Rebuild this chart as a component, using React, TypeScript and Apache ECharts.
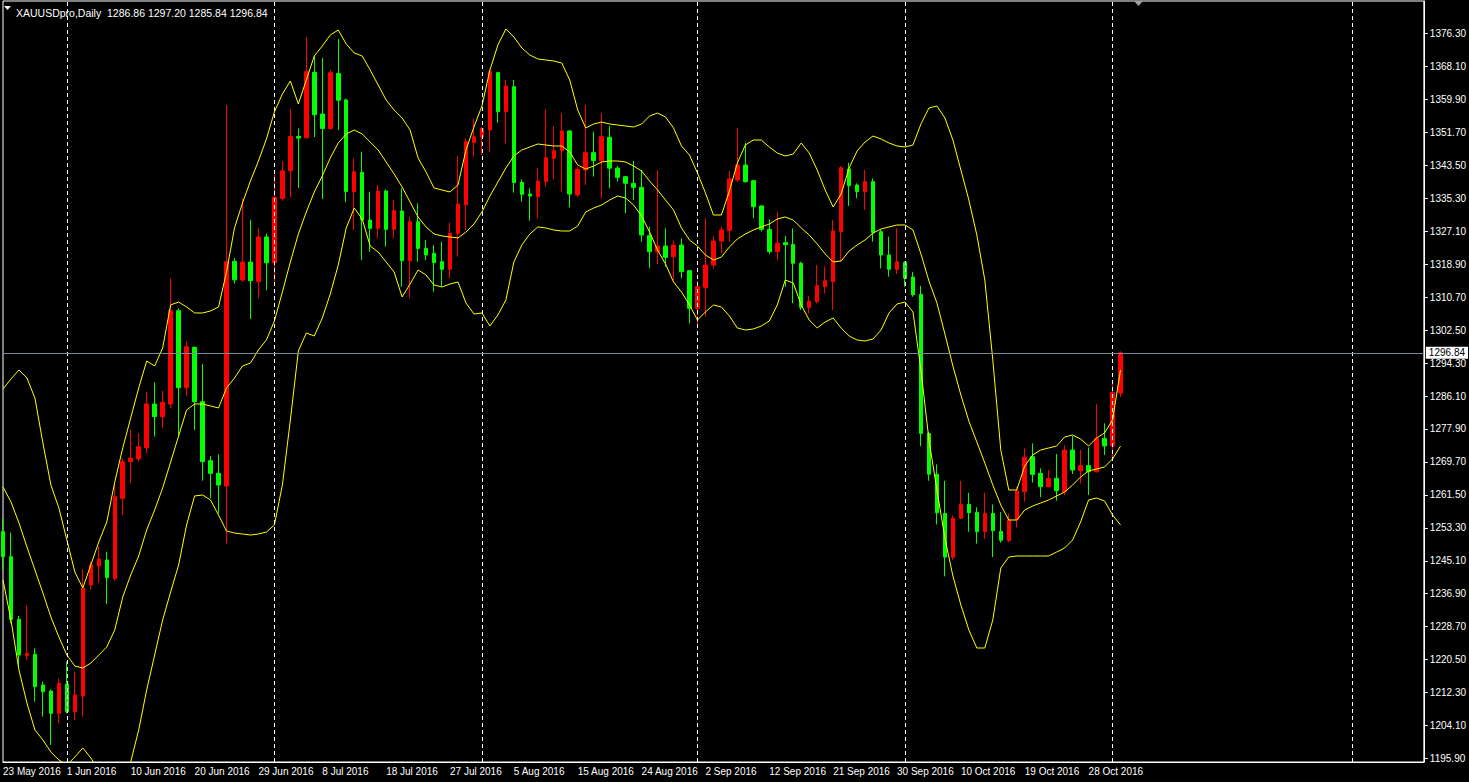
import React, { useEffect, useRef } from 'react';
import * as echarts from 'echarts';

const SYMBOL = 'XAUUSDpro,Daily';
const LAST_BAR = { open: 1286.86, high: 1297.2, low: 1285.84, close: 1296.84 };

const DATE_LABELS = [
  '23 May 2016', '1 Jun 2016', '10 Jun 2016', '20 Jun 2016', '29 Jun 2016', '8 Jul 2016',
  '18 Jul 2016', '27 Jul 2016', '5 Aug 2016', '15 Aug 2016', '24 Aug 2016', '2 Sep 2016',
  '12 Sep 2016', '21 Sep 2016', '30 Sep 2016', '10 Oct 2016', '19 Oct 2016', '28 Oct 2016',
];
const LABEL_STEP = 8;
const SLOT_COUNT = 179;
const MONTH_SEPARATORS = [8, 34, 60, 87, 113, 139, 169];

const PRICE_TICKS = [
  1195.9, 1204.1, 1212.3, 1220.5, 1228.7, 1236.9, 1245.1, 1253.3, 1261.5, 1269.7, 1277.9, 1286.1,
  1294.3, 1302.5, 1310.7, 1318.9, 1327.1, 1335.3, 1343.5, 1351.7, 1359.9, 1368.1, 1376.3,
];
const PRICE_MIN = 1195.03;
const PRICE_MAX = 1384.39;

const OPEN = [
  1252.34, 1246.12, 1230.53, 1221.48, 1221.82, 1214.18, 1212.69, 1207.13, 1214.43, 1207.55,
  1211.45, 1239.07, 1243.8, 1245.29, 1240.72, 1260.64, 1269.76, 1270.42, 1273.24, 1284.11,
  1280.95, 1284.11, 1307.33, 1288.17, 1298.21, 1284.69, 1270.0, 1266.85, 1263.7, 1319.6,
  1314.96, 1319.42, 1314.53, 1325.67, 1319.25, 1335.27, 1342.13, 1350.69, 1350.36, 1366.64,
  1356.27, 1352.67, 1366.38, 1359.78, 1336.95, 1341.76, 1329.89, 1327.82, 1337.11, 1327.57,
  1332.13, 1319.77, 1329.48, 1322.84, 1321.6, 1319.53, 1317.62, 1326.58, 1333.7, 1349.14,
  1350.63, 1352.29, 1366.56, 1356.85, 1363.07, 1339.26, 1336.36, 1335.7, 1339.43, 1345.24,
  1347.15, 1352.04, 1336.11, 1342.34, 1346.65, 1344.66, 1350.47, 1342.8, 1340.68, 1339.02,
  1338.02, 1325.99, 1322.01, 1323.42, 1320.77, 1323.67, 1317.29, 1307.91, 1313.06, 1318.69,
  1324.67, 1327.24, 1339.85, 1343.58, 1339.68, 1333.38, 1327.57, 1322.02, 1324.25, 1323.84,
  1319.11, 1308.16, 1309.57, 1313.3, 1314.55, 1326.99, 1342.59, 1338.6, 1336.95, 1339.43,
  1326.99, 1321.19, 1317.62, 1319.4, 1315.7, 1311.4, 1276.76, 1266.64, 1256.87, 1246.01,
  1255.69, 1259.12, 1257.14, 1252.34, 1256.87, 1252.4, 1250.1, 1255.3, 1262.3, 1271.0,
  1266.86, 1263.54, 1265.61, 1262.3, 1272.66, 1267.52, 1268.77, 1267.27, 1275.57, 1273.66,
  1286.86,
];
const CLOSE = [
  1246.12, 1230.53, 1221.65, 1222.06, 1213.77, 1212.52, 1207.13, 1214.6, 1207.55, 1211.69,
  1238.24, 1244.05, 1245.54, 1240.89, 1261.05, 1269.76, 1270.67, 1273.49, 1284.11, 1280.95,
  1284.52, 1307.33, 1288.17, 1298.37, 1284.69, 1269.76, 1266.85, 1263.95, 1319.53, 1315.0,
  1319.42, 1314.79, 1325.67, 1319.25, 1335.53, 1342.13, 1350.69, 1350.27, 1366.81, 1356.1,
  1352.67, 1366.55, 1359.7, 1337.0, 1341.92, 1329.89, 1327.82, 1337.11, 1327.57, 1332.22,
  1319.77, 1329.48, 1322.84, 1321.19, 1319.28, 1317.62, 1326.58, 1333.88, 1349.39, 1350.63,
  1352.7, 1366.81, 1356.85, 1363.24, 1339.18, 1336.28, 1335.86, 1339.6, 1345.4, 1347.15,
  1352.04, 1336.36, 1342.5, 1346.65, 1344.66, 1350.63, 1342.8, 1340.51, 1339.02, 1338.02,
  1326.16, 1322.01, 1323.42, 1320.6, 1323.67, 1317.04, 1307.91, 1313.3, 1318.69, 1324.67,
  1327.41, 1340.1, 1343.58, 1339.43, 1333.21, 1327.57, 1322.02, 1324.09, 1323.76, 1319.11,
  1308.16, 1309.7, 1313.55, 1314.8, 1327.16, 1342.92, 1338.44, 1336.95, 1339.43, 1326.74,
  1321.19, 1317.62, 1319.53, 1315.4, 1311.3, 1276.8, 1266.64, 1257.05, 1246.01, 1255.69,
  1259.12, 1257.05, 1252.34, 1256.87, 1252.61, 1250.2, 1255.3, 1262.46, 1270.84, 1266.61,
  1263.54, 1265.61, 1262.54, 1272.66, 1267.69, 1268.77, 1267.27, 1275.57, 1273.66, 1286.93,
  1296.84,
];
const LOW = [
  1242.8, 1229.53, 1218.74, 1220.4, 1210.04, 1206.3, 1199.25, 1204.64, 1207.13, 1205.47,
  1206.3, 1238.0, 1239.65, 1234.34, 1240.15, 1256.49, 1264.36, 1269.76, 1271.83, 1275.98,
  1278.05, 1283.03, 1275.98, 1286.1, 1277.64, 1265.02, 1260.63, 1256.9, 1249.43, 1314.1,
  1314.53, 1305.28, 1310.42, 1312.39, 1314.36, 1334.67, 1335.53, 1337.84, 1350.1, 1350.53,
  1335.1, 1352.41, 1352.24, 1334.3, 1327.41, 1319.94, 1322.01, 1325.33, 1323.26, 1325.33,
  1313.31, 1310.4, 1319.53, 1319.94, 1312.06, 1313.47, 1315.38, 1320.77, 1327.4, 1345.65,
  1346.07, 1346.9, 1354.11, 1348.97, 1336.69, 1334.45, 1329.73, 1330.31, 1338.19, 1340.01,
  1336.94, 1333.05, 1335.7, 1338.61, 1340.68, 1335.29, 1337.77, 1339.43, 1331.55, 1334.87,
  1324.5, 1317.87, 1318.95, 1318.28, 1314.8, 1315.38, 1304.18, 1303.35, 1305.84, 1317.87,
  1321.6, 1324.5, 1339.43, 1339.19, 1330.31, 1326.99, 1321.43, 1319.94, 1313.3, 1309.16,
  1307.5, 1306.6, 1309.16, 1311.65, 1307.5, 1319.53, 1333.38, 1335.29, 1332.38, 1324.5,
  1317.87, 1315.79, 1316.46, 1313.3, 1310.8, 1273.6, 1265.0, 1254.15, 1241.22, 1245.38,
  1255.5, 1252.34, 1249.36, 1250.53, 1246.01, 1249.6, 1249.7, 1253.4, 1259.81, 1264.54,
  1260.89, 1263.37, 1260.06, 1261.47, 1266.69, 1264.37, 1261.47, 1267.03, 1271.42, 1270.59,
  1285.84,
];
const HIGH = [
  1255.66, 1252.09, 1231.36, 1233.93, 1223.31, 1215.01, 1213.1, 1215.84, 1219.99, 1217.5,
  1242.97, 1244.88, 1248.61, 1247.36, 1264.37, 1270.59, 1277.8, 1276.81, 1287.01, 1289.5,
  1287.42, 1315.38, 1307.91, 1299.62, 1298.37, 1294.06, 1271.16, 1271.58, 1358.51, 1320.4,
  1335.27, 1329.96, 1327.82, 1326.53, 1341.27, 1344.53, 1357.55, 1352.67, 1375.38, 1370.66,
  1370.24, 1367.24, 1374.95, 1360.12, 1345.24, 1346.9, 1336.95, 1338.6, 1337.5, 1334.87,
  1337.78, 1330.72, 1334.04, 1324.92, 1323.67, 1324.5, 1329.23, 1345.82, 1350.2, 1355.19,
  1352.95, 1367.39, 1366.81, 1364.73, 1364.73, 1340.01, 1337.77, 1342.75, 1357.43, 1353.29,
  1356.44, 1352.29, 1343.16, 1358.51, 1351.88, 1356.44, 1353.29, 1343.33, 1340.84, 1344.58,
  1342.34, 1328.24, 1342.34, 1327.82, 1324.75, 1325.33, 1317.45, 1314.72, 1330.31, 1325.91,
  1328.24, 1342.09, 1352.71, 1349.14, 1339.85, 1333.63, 1330.06, 1331.97, 1325.91, 1327.82,
  1319.53, 1311.0, 1318.7, 1318.28, 1329.89, 1343.3, 1344.16, 1339.02, 1342.34, 1340.26,
  1327.57, 1325.75, 1327.82, 1319.6, 1317.0, 1313.5, 1277.22, 1269.08, 1265.0, 1256.41,
  1265.0, 1262.02, 1258.4, 1262.02, 1259.12, 1257.2, 1256.9, 1263.5, 1273.08, 1274.32,
  1268.1, 1267.69, 1271.67, 1273.91, 1276.15, 1272.66, 1273.33, 1284.11, 1279.3, 1289.25,
  1297.2,
];

const BB_UPPER = [
  1287.84, 1290.33, 1292.57, 1290.58, 1285.6, 1274.41, 1263.96, 1258.24, 1250.28, 1242.31,
  1238.33, 1244.06, 1249.78, 1254.76, 1264.71, 1273.17, 1280.63, 1288.09, 1294.81, 1293.57,
  1298.05, 1308.75, 1309.49, 1308.25, 1306.76, 1306.76, 1307.25, 1308.25, 1316.96, 1327.9,
  1334.12, 1339.6, 1344.57, 1350.05, 1356.77, 1361.25, 1364.49, 1358.76, 1364.74, 1370.71,
  1373.19, 1375.93, 1377.17, 1373.69, 1371.45, 1370.71, 1367.22, 1363.49, 1359.76, 1357.27,
  1355.28, 1352.29, 1345.33, 1341.84, 1337.86, 1337.36, 1336.87, 1338.61, 1347.32, 1353.04,
  1358.26, 1367.22, 1373.44, 1377.42, 1375.43, 1372.7, 1370.95, 1369.96, 1369.71, 1369.46,
  1368.96, 1364.73, 1357.27, 1352.79, 1353.78, 1354.28, 1353.78, 1353.54, 1353.29, 1353.04,
  1353.78, 1355.78, 1356.52, 1355.53, 1352.79, 1348.31, 1346.07, 1341.59, 1336.62, 1331.14,
  1331.14, 1337.11, 1344.08, 1348.56, 1349.8, 1349.8, 1348.06, 1346.57, 1345.82, 1346.32,
  1349.06, 1346.57, 1342.34, 1337.36, 1333.13, 1336.37, 1342.84, 1347.07, 1349.31, 1350.8,
  1350.05, 1349.06, 1348.31, 1348.06, 1348.56, 1353.78, 1357.77, 1358.26, 1355.28, 1349.8,
  1342.34, 1334.87, 1326.17, 1314.97, 1295.06, 1272.67, 1262.71, 1262.71, 1268.68, 1271.42,
  1272.67, 1273.16, 1273.66, 1275.9, 1276.4, 1275.4, 1273.66, 1275.65, 1276.9, 1280.13,
  1292.57,
];
const BB_MIDDLE = [
  1263.46, 1259.73, 1254.51, 1248.54, 1242.81, 1237.09, 1231.11, 1226.13, 1221.65, 1218.92,
  1218.42, 1219.66, 1221.65, 1223.65, 1227.88, 1236.09, 1241.56, 1246.29, 1252.77, 1257.74,
  1263.21, 1269.68, 1276.15, 1282.62, 1284.11, 1284.11, 1283.62, 1283.12, 1288.09, 1290.58,
  1293.56, 1294.31, 1297.55, 1300.04, 1304.77, 1311.98, 1319.45, 1326.41, 1331.89, 1336.87,
  1340.85, 1345.32, 1349.06, 1351.3, 1352.29, 1351.3, 1349.31, 1347.32, 1344.33, 1341.34,
  1338.11, 1334.37, 1330.64, 1328.16, 1326.41, 1325.92, 1325.67, 1325.42, 1326.91, 1328.9,
  1331.89, 1335.87, 1339.35, 1342.84, 1345.82, 1347.32, 1348.06, 1348.81, 1348.56, 1348.31,
  1348.31, 1346.82, 1343.58, 1342.59, 1343.33, 1344.33, 1344.58, 1344.58, 1344.33, 1343.33,
  1342.09, 1339.6, 1337.36, 1334.87, 1332.39, 1327.91, 1324.92, 1323.43, 1321.19, 1319.94,
  1320.69, 1323.18, 1325.17, 1326.41, 1327.41, 1328.16, 1328.9, 1330.15, 1330.64, 1329.9,
  1327.91, 1326.17, 1323.93, 1321.44, 1319.45, 1319.69, 1322.18, 1323.68, 1324.92, 1326.66,
  1327.66, 1328.16, 1328.65, 1328.65, 1327.41, 1321.44, 1314.72, 1309.24, 1301.53, 1293.56,
  1286.35, 1279.88, 1274.66, 1269.43, 1263.96, 1258.98, 1255.25, 1255.25, 1257.74, 1258.73,
  1259.48, 1260.23, 1261.22, 1262.22, 1263.96, 1265.95, 1267.44, 1267.94, 1268.44, 1270.43,
  1273.66,
];
const BB_LOWER = [
  1240.32, 1230.37, 1217.93, 1209.71, 1203.0, 1200.51, 1197.52, 1195.53, 1194.29, 1196.28,
  1198.52, 1196.03, 1193.04, 1189.31, 1187.57, 1190.06, 1195.03, 1203.0, 1212.95, 1221.66,
  1230.37, 1237.33, 1244.05, 1254.0, 1261.22, 1261.47, 1260.23, 1256.49, 1252.51, 1252.01,
  1251.76, 1251.51, 1251.76, 1252.26, 1254.0, 1263.96, 1280.13, 1297.3, 1301.78, 1301.03,
  1305.51, 1311.48, 1318.7, 1327.91, 1332.88, 1330.15, 1323.43, 1321.93, 1319.45, 1316.96,
  1310.74, 1313.97, 1317.46, 1316.21, 1313.72, 1313.23, 1313.97, 1314.47, 1309.24, 1306.51,
  1306.76, 1303.52, 1306.26, 1309.99, 1319.45, 1323.68, 1326.41, 1328.16, 1327.91, 1327.41,
  1327.16, 1327.16, 1328.4, 1331.89, 1332.88, 1333.63, 1334.87, 1335.87, 1335.37, 1333.63,
  1330.89, 1326.91, 1322.43, 1318.95, 1314.47, 1311.98, 1308.75, 1305.01, 1307.0, 1308.75,
  1308.25, 1306.01, 1303.02, 1302.53, 1302.78, 1303.52, 1304.77, 1308.75, 1314.97, 1314.22,
  1308.75, 1305.01, 1303.02, 1304.52, 1305.51, 1303.02, 1301.03, 1300.04, 1299.79, 1300.29,
  1302.53, 1306.76, 1309.0, 1309.49, 1307.0, 1292.57, 1275.16, 1262.71, 1250.77, 1241.31,
  1234.1, 1227.88, 1223.4, 1223.4, 1230.37, 1243.3, 1246.04, 1246.29, 1246.29, 1246.29,
  1246.29, 1246.29, 1247.28, 1248.28, 1250.27, 1254.75, 1260.23, 1260.72, 1259.98, 1256.49,
  1254.0,
];

const FONT = 'Liberation Sans, Arial, sans-serif';

export default function App() {
  const ref = useRef<HTMLDivElement>(null);

  useEffect(() => {
    if (!ref.current) return;
    const chart = echarts.init(ref.current, null, { renderer: 'svg' });
    const categories = Array.from({ length: SLOT_COUNT }, (_, i) => String(i));
    const candles = OPEN.map((o, i) => [o, CLOSE[i], LOW[i], HIGH[i]]);
    const bandLine = (name: string, data: number[]) => ({
      name,
      type: 'line',
      data,
      symbol: 'none',
      silent: true,
      smooth: false,
      lineStyle: { color: '#ffff00', width: 1 },
      z: 3,
    });

    chart.setOption({
      animation: false,
      backgroundColor: '#000000',
      title: {
        text: `${SYMBOL}  ${LAST_BAR.open.toFixed(2)} ${LAST_BAR.high.toFixed(2)} ${LAST_BAR.low.toFixed(2)} ${LAST_BAR.close.toFixed(2)}`,
        left: 11,
        top: 2,
        textStyle: { color: '#ffffff', fontSize: 10.5, fontWeight: 'normal', fontFamily: FONT },
      },
      grid: {
        left: 2,
        top: 1,
        width: 1424,
        height: 761,
        show: true,
        borderColor: '#ffffff',
        borderWidth: 1,
        backgroundColor: 'transparent',
      },
      xAxis: {
        type: 'category',
        data: categories,
        boundaryGap: false,
        axisLine: { show: true, lineStyle: { color: '#ffffff', width: 1 } },
        axisTick: { show: false },
        splitLine: { show: false },
        axisLabel: {
          interval: LABEL_STEP - 1,
          formatter: (_v: string, idx: number) => DATE_LABELS[idx / LABEL_STEP] ?? '',
          color: '#ffffff',
          fontSize: 10,
          fontFamily: FONT,
          align: 'left',
          margin: 4,
        },
      },
      yAxis: {
        type: 'value',
        position: 'right',
        min: PRICE_MIN,
        max: PRICE_MAX,
        axisLine: { show: true, lineStyle: { color: '#ffffff', width: 1 } },
        axisTick: {
          show: true,
          inside: false,
          length: 4,
          customValues: PRICE_TICKS,
          lineStyle: { color: '#ffffff' },
        },
        splitLine: { show: false },
        axisLabel: {
          customValues: PRICE_TICKS,
          formatter: (v: number) => v.toFixed(2),
          color: '#ffffff',
          fontSize: 10,
          fontFamily: FONT,
          margin: 6,
        },
      },
      graphic: [
        {
          type: 'polygon',
          shape: { points: [[4, 6], [11, 6], [7.5, 10]] },
          style: { fill: '#ffffff' },
          silent: true,
        },
        {
          type: 'polygon',
          shape: { points: [[1134, 1], [1143, 1], [1138.5, 6]] },
          style: { fill: '#9aa0a8' },
          silent: true,
        },
      ],
      series: [
        {
          name: SYMBOL,
          type: 'candlestick',
          data: candles,
          barWidth: 4,
          itemStyle: {
            color: '#ff0000',
            color0: '#00ff00',
            borderColor: '#ff0000',
            borderColor0: '#00ff00',
            borderColorDoji: '#00ff00',
            borderWidth: 1,
          },
          z: 2,
          markLine: {
            silent: true,
            symbol: 'none',
            animation: false,
            lineStyle: { color: '#ffffff', type: [4, 3], width: 1 },
            label: { show: false },
            data: MONTH_SEPARATORS.map((i) => ({ xAxis: String(i) })),
          },
        },
        {
          name: 'Bid',
          type: 'line',
          data: [],
          silent: true,
          z: 4,
          markLine: {
            silent: true,
            symbol: 'none',
            animation: false,
            lineStyle: { color: '#7d879a', type: 'solid', width: 1, opacity: 1 },
            label: {
              show: true,
              position: 'end',
              formatter: LAST_BAR.close.toFixed(2),
              color: '#000000',
              backgroundColor: '#ffffff',
              fontSize: 10,
              fontFamily: FONT,
              padding: [1, 3, 1, 3],
              distance: 2,
            },
            data: [{ yAxis: LAST_BAR.close }],
          },
        },
        bandLine('BB upper', BB_UPPER),
        bandLine('BB middle', BB_MIDDLE),
        bandLine('BB lower', BB_LOWER),
      ],
    });

    return () => chart.dispose();
  }, []);

  return (
    <div
      ref={ref}
      style={{ position: 'fixed', left: 0, top: 0, width: 1469, height: 782, background: '#000' }}
    />
  );
}
